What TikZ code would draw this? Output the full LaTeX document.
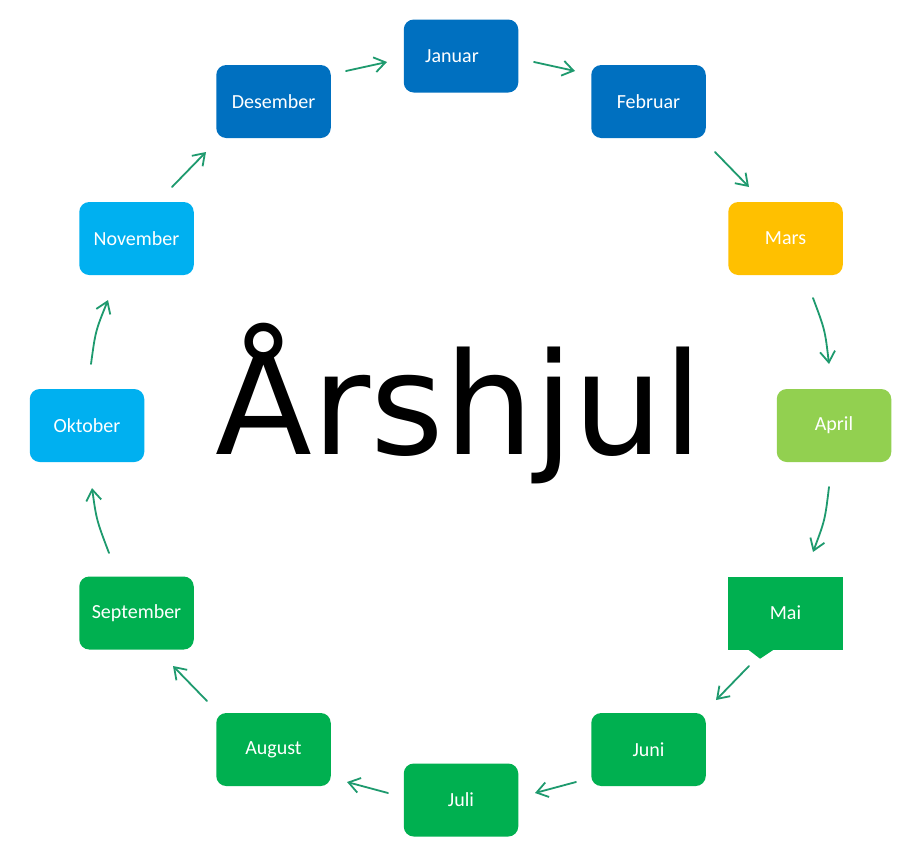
\documentclass[tikz,border=0pt]{standalone}
\usepackage{fontspec}
\setmainfont{Carlito}
\newfontfamily\titlefont{DejaVu Sans}
\usetikzlibrary{arrows.meta,calc}
\definecolor{dblue}{HTML}{0070C0}
\definecolor{lblue}{HTML}{00B0F0}
\definecolor{myellow}{HTML}{FFC000}
\definecolor{lgreen}{HTML}{92D050}
\definecolor{mgreen}{HTML}{00B050}
\definecolor{arrowcol}{HTML}{1E9A6E}
\tikzset{
  month/.style={rectangle, rounded corners=10pt, minimum width=114.5pt, minimum height=73pt,
    inner sep=0pt, text=white, font=\fontsize{20}{24}\selectfont},
  flow/.style={draw=arrowcol, line width=1.8pt, line cap=round,
    -{Straight Barb[length=11pt,width=15pt,line width=1.8pt]}}
}
\begin{document}
\begin{tikzpicture}[x=1pt,y=-1pt]
\useasboundingbox (0,0) rectangle (918,860);
\fill[white] (0,0) rectangle (918,860);
% boxes
\node[month, fill=dblue] (jan) at (461,56) {\hspace*{-18pt}Januar};
\node[month, fill=dblue] (feb) at (648.5,101.5) {Februar};
\node[month, fill=myellow] (mar) at (785.5,238.5) {Mars};
\node[month, fill=lgreen] (apr) at (834,425.5) {April};
\node[month, fill=mgreen, rounded corners=0pt] (mai) at (785.5,613) {Mai};
\fill[mgreen] ($(mai.south west)+(19,-1)$) -- ($(mai.south west)+(32,9)$) -- ($(mai.south west)+(47,-1)$) -- cycle;
\node[month, fill=mgreen] (jun) at (648.5,749.5) {Juni};
\node[month, fill=mgreen] (jul) at (461,800) {Juli};
\node[month, fill=mgreen] (aug) at (273.5,749.5) {August};
\node[month, fill=mgreen] (sep) at (136.5,613) {September};
\node[month, fill=lblue] (okt) at (87,425.5) {Oktober};
\node[month, fill=lblue] (nov) at (136.5,238.5) {November};
\node[month, fill=dblue] (des) at (273.5,101.5) {Desember};
% title
\node[anchor=base, inner sep=0pt, font=\titlefont\fontsize{141.5}{160}\selectfont] (title) at (459,454) {Årshjul};
% arrow end points
\coordinate (a1s) at (346,71);   \coordinate (a1e) at (387,62);
\coordinate (a2s) at (534,62);   \coordinate (a2e) at (575,71);
\coordinate (a3s) at (715,152);  \coordinate (a3e) at (749,187);
\coordinate (a4s) at (813,298);  \coordinate (a4c) at (825,330); \coordinate (a4e) at (829,364);
\coordinate (a5s) at (829,487);  \coordinate (a5c) at (825,520); \coordinate (a5e) at (813,552);
\coordinate (a6s) at (749,666);  \coordinate (a6e) at (716,700);
\coordinate (a7s) at (576,782);  \coordinate (a7e) at (535,793);
\coordinate (a8s) at (388,793);  \coordinate (a8e) at (347,782);
\coordinate (a9s) at (207,701);  \coordinate (a9e) at (173,666);
\coordinate (a10s) at (109,553); \coordinate (a10c) at (96.5,520); \coordinate (a10e) at (92,488);
\coordinate (a11s) at (91,364);  \coordinate (a11c) at (95.5,331); \coordinate (a11e) at (108,300);
\coordinate (a12s) at (172,187); \coordinate (a12e) at (206,152);
% arrows
\draw[flow] (a1s) -- (a1e);
\draw[flow] (a2s) -- (a2e);
\draw[flow] (a3s) -- (a3e);
\draw[flow] (a4s) .. controls (a4c) .. (a4e);
\draw[flow] (a5s) .. controls (a5c) .. (a5e);
\draw[flow] (a6s) -- (a6e);
\draw[flow] (a7s) -- (a7e);
\draw[flow] (a8s) -- (a8e);
\draw[flow] (a9s) -- (a9e);
\draw[flow] (a10s) .. controls (a10c) .. (a10e);
\draw[flow] (a11s) .. controls (a11c) .. (a11e);
\draw[flow] (a12s) -- (a12e);
\end{tikzpicture}
\end{document}
